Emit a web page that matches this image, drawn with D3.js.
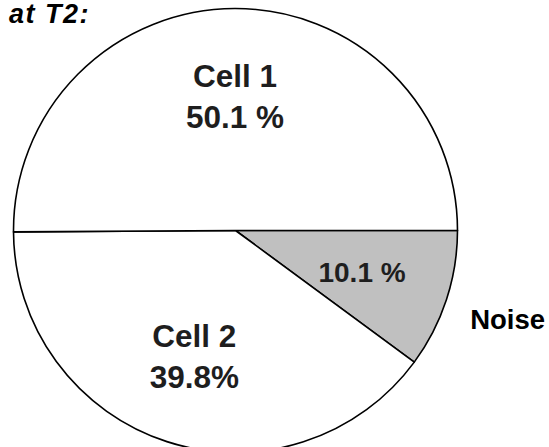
<!DOCTYPE html>
<html><head><meta charset="utf-8">
<script src="https://cdn.jsdelivr.net/npm/d3@7"></script>
<style>html,body{margin:0;padding:0;background:#fff;}svg{display:block;}</style>
</head><body>
<svg id="c" width="549" height="447"></svg>
<script>
const categories = ["Noise", "Cell 2", "Cell 1"];
const values = [10.1, 39.8, 50.1];
const valueLabels = ["10.1 %", "39.8%", "50.1 %"];
const fills = ["#c0c0c0", "#ffffff", "#ffffff"];
const title = "at T2:";

const W = 549, H = 447;
const cx = 235.5, cy = 230.5, R = 222;
const svg = d3.select("#c");
const g = svg.append("g").attr("transform", `translate(${cx},${cy})`);

const pie = d3.pie().sort(null).value(d => d.v)
  .startAngle(Math.PI / 2).endAngle(Math.PI / 2 + 2 * Math.PI);
const data = categories.map((c, i) => ({c, v: values[i], l: valueLabels[i], f: fills[i]}));
const arcs = pie(data);
const arc = d3.arc().innerRadius(0).outerRadius(R);
const labelArc = d3.arc().innerRadius(R * 0.6).outerRadius(R * 0.6);
const outerArc = d3.arc().innerRadius(R * 1.29).outerRadius(R * 1.29);

g.selectAll("path").data(arcs).join("path")
  .attr("d", arc)
  .attr("fill", d => d.data.f)
  .attr("stroke", "#000")
  .attr("stroke-width", 1.6)
  .attr("stroke-linejoin", "round");

const font = "'Liberation Sans', Arial, Helvetica, sans-serif";
arcs.forEach(a => {
  const [x, y] = labelArc.centroid(a);
  if (a.data.c === "Noise") {
    g.append("text").attr("x", x).attr("y", y + 9.5)
      .attr("text-anchor", "middle").attr("font-family", font)
      .attr("font-weight", "bold").attr("font-size", 28).attr("fill", "#1e1e1e")
      .text(a.data.l);
    const [ox, oy] = outerArc.centroid(a);
    g.append("text").attr("x", ox).attr("y", oy + 9.5)
      .attr("text-anchor", "middle").attr("font-family", font)
      .attr("font-weight", "bold").attr("font-size", 27.5).attr("fill", "#000")
      .text(a.data.c);
  } else {
    const t = g.append("text").attr("text-anchor", "middle").attr("font-family", font)
      .attr("font-weight", "bold").attr("font-size", 31.5).attr("fill", "#1e1e1e");
    t.append("tspan").attr("x", x).attr("y", y - 10).text(a.data.c);
    t.append("tspan").attr("x", x).attr("y", y + 31).text(a.data.l);
  }
});

svg.append("text").attr("x", 9).attr("y", 23)
  .attr("font-family", font).attr("font-weight", "bold").attr("font-style", "italic")
  .attr("font-size", 27).attr("letter-spacing", 1.5).attr("fill", "#000").text(title);
</script>
</body></html>
